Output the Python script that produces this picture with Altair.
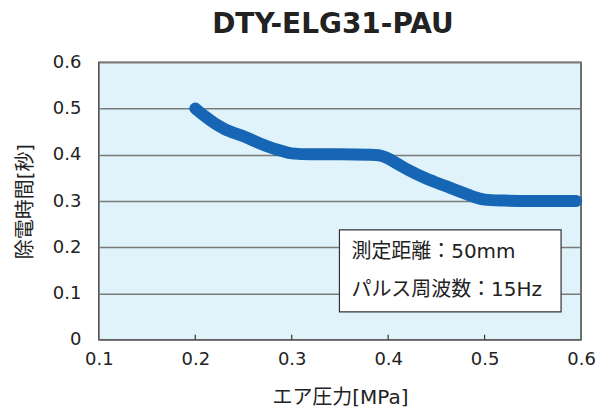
import altair as alt
import pandas as pd

title = "DTY-ELG31-PAU"
pressure = [0.20, 0.21, 0.22, 0.23, 0.25, 0.27, 0.29, 0.30, 0.32, 0.35, 0.38, 0.39,
            0.40, 0.41, 0.42, 0.44, 0.46, 0.48, 0.49, 0.50, 0.52, 0.55, 0.595]
time_s = [0.500, 0.483, 0.468, 0.456, 0.440, 0.422, 0.408, 0.403, 0.401, 0.401, 0.400, 0.399,
          0.392, 0.380, 0.368, 0.348, 0.332, 0.316, 0.308, 0.303, 0.301, 0.300, 0.300]
x_ticks = [0.1, 0.2, 0.3, 0.4, 0.5, 0.6]
y_ticks = [0, 0.1, 0.2, 0.3, 0.4, 0.5, 0.6]
inner_ticks = [0.2, 0.3, 0.4, 0.5]
notes = ["測定距離：50mm", "パルス周波数：15Hz"]

W, H = 483, 278
MIX = "DejaVu Sans, Noto Sans CJK JP"
LAT = "DejaVu Sans"

df = pd.DataFrame({"p": pressure, "t": time_s})

xs = alt.Scale(domain=[0.1, 0.6], nice=False, zero=False)
ys = alt.Scale(domain=[0, 0.6], nice=False)

xaxis = alt.Axis(values=x_ticks, format="~g", grid=False, ticks=False, domain=False,
                 labelFont=LAT, labelFontSize=18, labelColor="#222", labelPadding=11,
                 title="エア圧力[MPa]", titleFont=MIX, titleFontSize=20, titleFontWeight="normal",
                 titleColor="#222", titlePadding=19, labelFlush=False)
yaxis = alt.Axis(values=y_ticks, format="~g", grid=True, gridColor="#7a7a7a", gridWidth=1.5,
                 ticks=False, domain=False,
                 labelFont=LAT, labelFontSize=18, labelColor="#222", labelPadding=18,
                 title="除電時間[秒]", titleFont=MIX, titleFontSize=20, titleFontWeight="normal",
                 titleColor="#222", titlePadding=17)

line = alt.Chart(df).mark_line(color="#1766b5", strokeWidth=12, strokeCap="round",
                               strokeJoin="round", interpolate="monotone").encode(
    x=alt.X("p:Q", scale=xs, axis=xaxis),
    y=alt.Y("t:Q", scale=ys, axis=yaxis),
)

ticks = alt.Chart(pd.DataFrame({"v": inner_ticks})).mark_rule(color="#333", strokeWidth=1.2).encode(
    x=alt.X("v:Q", scale=xs, axis=xaxis),
    y=alt.value(H), y2=alt.value(H - 5),
)

box = alt.Chart(pd.DataFrame({"a": [0]})).mark_rect(fill="white", stroke="#333", strokeWidth=1.2).encode(
    x=alt.value(241), x2=alt.value(463), y=alt.value(168), y2=alt.value(250),
)

note1 = alt.Chart(pd.DataFrame({"txt": [notes[0]]})).mark_text(
    align="left", baseline="middle", font=MIX, fontSize=20, color="#222").encode(
    text="txt:N", x=alt.value(253), y=alt.value(190))
note2 = alt.Chart(pd.DataFrame({"txt": [notes[1]]})).mark_text(
    align="left", baseline="middle", font=MIX, fontSize=20, color="#222").encode(
    text="txt:N", x=alt.value(253), y=alt.value(228))

chart = alt.layer(line, ticks, box, note1, note2).properties(
    width=W, height=H,
    title=alt.TitleParams(title, font=LAT, fontSize=28, fontWeight="bold", color="#222",
                          anchor="middle", offset=14, dx=-7),
    padding={"left": 91, "top": 54, "right": 22, "bottom": 72},
    autosize=alt.AutoSizeParams(type="none"),
).configure_view(
    fill="#e0f3fa", stroke="#444", strokeWidth=1.5
)

chart.save("out.html", embed_options={"renderer": "svg", "actions": False})
